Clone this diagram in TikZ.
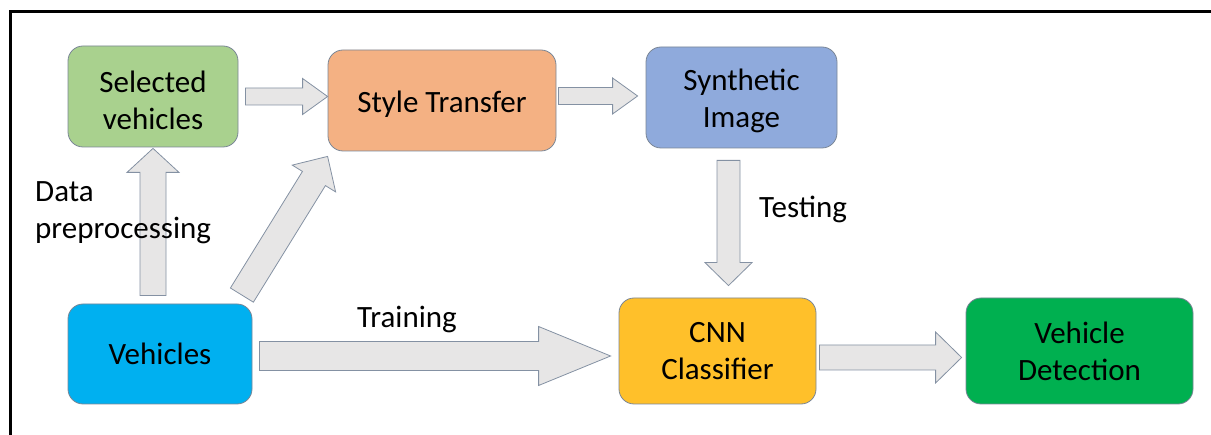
\documentclass[tikz,border=0pt]{standalone}
\usepackage{fontspec}
\setmainfont{Carlito}
\usetikzlibrary{calc}

\definecolor{selgreen}{HTML}{A9D18E}
\definecolor{styleorange}{HTML}{F4B183}
\definecolor{synblue}{HTML}{8FAADC}
\definecolor{vehblue}{HTML}{00B0F0}
\definecolor{cnnyellow}{HTML}{FFC02A}
\definecolor{detgreen}{HTML}{00B050}
\definecolor{boxline}{HTML}{7A8696}
\definecolor{arrowfill}{HTML}{E7E6E6}
\definecolor{arrowline}{HTML}{8491A3}

\tikzset{
  box/.style={shape=rectangle, rounded corners=15pt, draw=boxline, line width=0.8pt, align=center, inner sep=0pt},
  barrow/.style={fill=arrowfill, draw=arrowline, line width=0.8pt, line join=miter},
  lbl/.style={inner sep=0pt, align=left}
}

% taller first line, so the text sits a little lower in its box
\newcommand{\lowstrut}{\rule{0pt}{29pt}}

% block arrow: from, to, half shaft, half head, head length, name of head base
\newcommand{\blockarrow}[6]{%
  \coordinate (#6) at ($#2!#5!#1$);
  \draw[barrow] ($#1!#3!90:#2$) -- ($(#6)!#3!90:#2$) -- ($(#6)!#4!90:#2$) -- #2
    -- ($(#6)!#4!-90:#2$) -- ($(#6)!#3!-90:#2$) -- ($#1!#3!-90:#2$) -- cycle;}

\begin{document}
\begin{tikzpicture}[x=1pt, y=-1pt, font=\fontsize{31}{37}\selectfont]
\useasboundingbox (0,0) rectangle (1211,435);
\draw[line width=3pt] (10,436) -- (10,12) -- (1212,12);

    \node[box, fill=selgreen, minimum width=170pt, minimum height=101pt] at (153,96.5) (sel) {\lowstrut Selected\\vehicles};
    \node[box, fill=styleorange, minimum width=228pt, minimum height=101pt] at (442,100.5) (st) {\lowstrut Style Transfer};
    \node[box, fill=synblue, minimum width=191pt, minimum height=101pt] at (741.5,97.5) (syn) {\lowstrut Synthetic\\Image};
    \node[box, fill=vehblue, minimum width=184pt, minimum height=100pt] at (160,354) (veh) {Vehicles};
    \node[box, fill=cnnyellow, minimum width=197pt, minimum height=106pt] at (717.5,351) (cnn) {CNN\\Classifier};
    \node[box, fill=detgreen, minimum width=227pt, minimum height=106pt] at (1079.5,351) (det) {Vehicle\\Detection};

    \coordinate (a1s) at ($(sel.east)+(7,0)$);
    \coordinate (a1e) at (sel.east -| st.west);
    \coordinate (a2s) at ($(st.east)+(2,-4.5)$);
    \coordinate (a2e) at ($(syn.west)+(-8,-1.5)$);
    \coordinate (a3s) at ($(sel.south |- veh.north)+(0,-8)$);
    \coordinate (a3e) at ($(sel.south)+(0,1)$);
    \coordinate (a4s) at ($(veh.north east)+(-10.5,-8.5)$);
    \coordinate (a4e) at ($(st.south west)+(0,5)$);
    \coordinate (a5s) at ($(syn.south)+(-13,12)$);
    \coordinate (a5e) at ($(cnn.north)+(11,-12)$);
    \coordinate (a6s) at ($(veh.east)+(7,2)$);
    \coordinate (a6e) at ($(cnn.west)+(-8,5)$);
    \coordinate (a7s) at ($(cnn.east)+(3,6.5)$);
    \coordinate (a7e) at ($(det.west)+(-4,6.5)$);

    \blockarrow{(a1s)}{(a1e)}{8.5pt}{18pt}{25pt}{a1h}
    \blockarrow{(a2s)}{(a2e)}{8.5pt}{18pt}{25pt}{a2h}
    \blockarrow{(a3s)}{(a3e)}{13pt}{26pt}{24pt}{a3h}
    \blockarrow{(a4s)}{(a4e)}{13.5pt}{25.5pt}{26pt}{a4h}
    \blockarrow{(a5s)}{(a5e)}{11.5pt}{23.5pt}{23pt}{a5h}
    \blockarrow{(a6s)}{(a6e)}{14.5pt}{29.5pt}{72pt}{a6h}
    \blockarrow{(a7s)}{(a7e)}{12.5pt}{25.5pt}{26pt}{a7h}

    \node[lbl, anchor=west] at (35,213) (prep) {Data\\preprocessing};
    \node[lbl, anchor=base west] at (759,218) (test) {Testing};
    \node[lbl, anchor=base west] at (357,328) (train) {Training};
\end{tikzpicture}
\end{document}
